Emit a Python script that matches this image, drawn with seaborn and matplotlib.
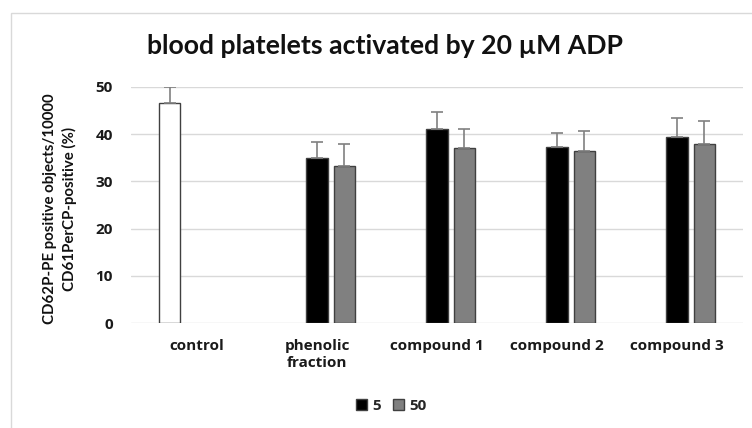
import matplotlib
matplotlib.use("Agg")
import matplotlib.pyplot as plt
from matplotlib.patches import Rectangle, Patch
import numpy as np
import pandas as pd
import seaborn as sns

# Data: mean values and upper SD per group
categories = ["control", "phenolic\nfraction", "compound 1", "compound 2", "compound 3"]
doses = ["control", "5", "50"]

control_value = [46.6]
control_err = [3.4]
dose5_values = [35.0, 41.0, 37.2, 39.4]
dose5_err = [3.4, 3.7, 3.0, 3.9]
dose50_values = [33.3, 37.0, 36.4, 37.8]
dose50_err = [4.5, 4.1, 4.2, 5.0]

rows = [(categories[0], "control", control_value[0], control_err[0])]
for i, cat in enumerate(categories[1:]):
    rows.append((cat, "5", dose5_values[i], dose5_err[i]))
    rows.append((cat, "50", dose50_values[i], dose50_err[i]))
df = pd.DataFrame(rows, columns=["category", "dose", "value", "err"])

sns.set_theme(style="white")
plt.rcParams["font.family"] = ["Lato", "DejaVu Sans"]

fig = plt.figure(figsize=(7.52, 4.28), dpi=100)
ax = fig.add_axes([131 / 752, 1 - 323.3 / 428, 612 / 752, 236.6 / 428])

palette = {"control": "white", "5": "black", "50": "#808080"}
sns.barplot(data=df, x="category", y="value", hue="dose", order=categories,
            hue_order=doses, palette=palette, width=0.686, gap=0.21,
            edgecolor="#404040", linewidth=1, errorbar=None, legend=False,
            ax=ax, zorder=3)

# Upper-only error bars at each bar's top
bars = [p for p in ax.patches if np.isfinite(p.get_height()) and p.get_height() > 0]
bars.sort(key=lambda p: p.get_x())
xs = [p.get_x() + p.get_width() / 2 for p in bars]
hs = [p.get_height() for p in bars]
errs = list(df["err"])
ax.errorbar(xs, hs, yerr=[np.zeros(len(errs)), errs], fmt="none",
            ecolor="#808080", elinewidth=1.2, capsize=4, capthick=1.2, zorder=4)

ax.set_ylim(0, 50)
ax.set_yticks(np.arange(0, 51, 10))
ax.yaxis.grid(True, color="#d9d9d9", linewidth=1)
ax.set_axisbelow(True)
for s in ax.spines.values():
    s.set_visible(False)
ax.set_xlabel("")
ax.set_ylabel("")
ax.tick_params(axis="y", length=0, pad=13)
ax.tick_params(axis="x", length=0, pad=11)
for lab in ax.get_yticklabels():
    lab.set_fontfamily(["Open Sans", "DejaVu Sans"])
    lab.set_fontsize(11)
    lab.set_fontweight("bold")
    lab.set_color("#1a1a1a")
for lab in ax.get_xticklabels():
    lab.set_fontfamily(["Open Sans", "DejaVu Sans"])
    lab.set_fontsize(11)
    lab.set_fontweight("bold")
    lab.set_color("#1a1a1a")
    lab.set_linespacing(1.3)

fig.text(385 / 752, 1 - 46 / 428, "blood platelets activated by 20 \u00b5M ADP",
         ha="center", va="center", fontsize=19.2, fontweight="bold", color="#111111")
fig.text(60 / 752, 1 - 209 / 428,
         "CD62P-PE positive objects/10000\nCD61PerCP-positive (%)",
         rotation=90, ha="center", va="center", multialignment="center",
         fontsize=10.8, fontweight="bold", color="#111111", linespacing=1.35)

handles = [Patch(facecolor="black", edgecolor="#404040", label="5"),
           Patch(facecolor="#808080", edgecolor="#404040", label="50")]
fig.legend(handles=handles, loc="center", bbox_to_anchor=(391 / 752, 1 - 406 / 428),
           ncol=2, frameon=False, handlelength=0.75, handleheight=0.75,
           handletextpad=0.3, columnspacing=0.8,
           prop={"family": ["Open Sans", "DejaVu Sans"], "weight": "bold", "size": 11})

fig.add_artist(Rectangle((11 / 752, -0.1), 2, 1 - 13 / 428 + 0.1,
                         transform=fig.transFigure, fill=False,
                         edgecolor="#d9d9d9", linewidth=1))

fig.savefig("out.png", dpi=100, facecolor="white")
